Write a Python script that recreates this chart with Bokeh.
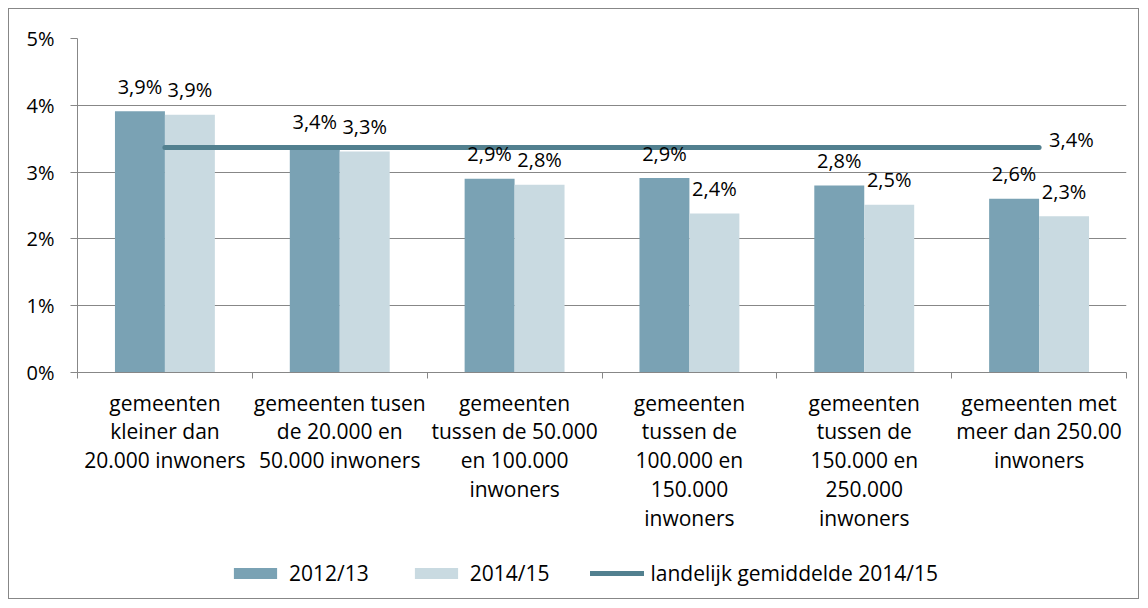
from bokeh.plotting import figure
from bokeh.layouts import column
from bokeh.models import (ColumnDataSource, FixedTicker, PrintfTickFormatter, Range1d,
                          Legend, LegendItem, LinearAxis)
from bokeh.core.properties import value
from bokeh.embed import file_html
from bokeh.resources import INLINE

categories = [
    "gemeenten\nkleiner dan\n20.000 inwoners",
    "gemeenten tusen\nde 20.000 en\n50.000 inwoners",
    "gemeenten\ntussen de 50.000\nen 100.000\ninwoners",
    "gemeenten\ntussen de\n100.000 en\n150.000\ninwoners",
    "gemeenten\ntussen de\n150.000 en\n250.000\ninwoners",
    "gemeenten met\nmeer dan 250.00\ninwoners",
]
series_names = ["2012/13", "2014/15", "landelijk gemiddelde 2014/15"]
values_2012 = [3.91, 3.38, 2.90, 2.91, 2.80, 2.60]
values_2014 = [3.86, 3.31, 2.81, 2.38, 2.51, 2.34]
national_avg = 3.37
y_ticks = [0, 1, 2, 3, 4, 5]

FONT = "Open Sans"
DARK = "#7AA2B4"
LIGHT = "#C9DAE1"
LINE = "#52808F"
GRID = "#878787"

n = len(categories)
bw = 1 / 3.5
centers = [i + 0.5 for i in range(n)]

def fmt(v):
    return f"{v:.1f}".replace(".", ",") + "%"

src1 = ColumnDataSource(dict(x=[c - bw / 2 for c in centers], top=values_2012,
                             lab=[fmt(v) for v in values_2012]))
src2 = ColumnDataSource(dict(x=[c + bw / 2 for c in centers], top=values_2014,
                             lab=[fmt(v) for v in values_2014]))
avg_src = ColumnDataSource(dict(x=[centers[0], centers[-1]], y=[national_avg, national_avg]))
avg_lab = ColumnDataSource(dict(x=[centers[-1]], y=[national_avg], lab=[fmt(national_avg)]))

W = 1129
p = figure(width=W, height=530, output_backend="svg", toolbar_location=None,
           x_range=Range1d(0, n), y_range=Range1d(0, 5),
           min_border_left=68, min_border_right=12, min_border_top=29, min_border_bottom=167,
           x_axis_location=None, y_axis_location=None)
p.outline_line_color = None
p.background_fill_color = "white"
p.border_fill_color = "white"

# axes
yax = LinearAxis(ticker=FixedTicker(ticks=y_ticks), formatter=PrintfTickFormatter(format="%d%%"))
yax.axis_line_color = GRID
yax.major_tick_line_color = GRID
yax.major_tick_out = 7
yax.major_tick_in = 0
yax.minor_tick_line_color = None
yax.major_label_standoff = 16
yax.major_label_text_font = FONT
yax.major_label_text_font_size = "20px"
yax.major_label_text_color = "#000000"
p.add_layout(yax, "left")

xax = LinearAxis(ticker=FixedTicker(ticks=centers, minor_ticks=list(range(n + 1))))
xax.major_label_overrides = {c: cat for c, cat in zip(centers, categories)}
xax.axis_line_color = GRID
xax.major_tick_line_color = None
xax.minor_tick_line_color = GRID
xax.minor_tick_out = 6
xax.minor_tick_in = 0
xax.major_label_standoff = 10
xax.major_label_text_font = FONT
xax.major_label_text_font_size = "21px"
xax.major_label_text_color = "#000000"
xax.major_label_text_line_height = 1.03
p.add_layout(xax, "below")

p.xgrid.visible = False
p.ygrid.ticker = FixedTicker(ticks=y_ticks)
p.ygrid.grid_line_color = GRID
p.ygrid.grid_line_width = 1

p.vbar(x="x", top="top", width=bw, source=src1, fill_color=DARK, line_color=None)
p.vbar(x="x", top="top", width=bw, source=src2, fill_color=LIGHT, line_color=None)
p.line(x="x", y="y", source=avg_src, line_color=LINE, line_width=5, line_cap="round")

for s in (src1, src2):
    p.text(x="x", y="top", text="lab", source=s, text_align="center", text_baseline="alphabetic",
           y_offset=-25, text_font=value(FONT), text_font_size="20px", text_color="#000000")
p.text(x="x", y="y", text="lab", source=avg_lab, text_align="left", text_baseline="alphabetic",
       x_offset=10, y_offset=-8, text_font=value(FONT), text_font_size="20px", text_color="#000000")

# legend strip: same series drawn with the same styles, out of view
lg = figure(width=W, height=59, output_backend="svg", toolbar_location=None,
            x_range=Range1d(0, n), y_range=Range1d(100, 101),
            min_border_left=0, min_border_right=0, min_border_top=0, min_border_bottom=0,
            x_axis_location=None, y_axis_location=None)
lg.grid.visible = False
lg.outline_line_color = None
lg.background_fill_color = "white"
lg.border_fill_color = "white"
l1 = lg.vbar(x="x", top="top", width=bw, source=src1, fill_color=DARK, line_color=None)
l2 = lg.vbar(x="x", top="top", width=bw, source=src2, fill_color=LIGHT, line_color=None)
l3 = lg.line(x="x", y="y", source=avg_src, line_color=LINE, line_width=5, line_cap="round")

legend = Legend(items=[LegendItem(label=series_names[0], renderers=[l1]),
                       LegendItem(label=series_names[1], renderers=[l2]),
                       LegendItem(label=series_names[2], renderers=[l3])],
                orientation="horizontal", location=(151, 11),
                glyph_width=54, glyph_height=14, label_standoff=7, spacing=40,
                padding=0, margin=0, border_line_color=None, background_fill_alpha=0,
                label_text_font=FONT, label_text_font_size="21px", label_text_color="#000000")
lg.add_layout(legend, "center")

layout = column(p, lg, spacing=0)
layout.styles = {"border": "1px solid #878787", "margin": "8px"}

open("out.html", "w").write(file_html(layout, INLINE))
